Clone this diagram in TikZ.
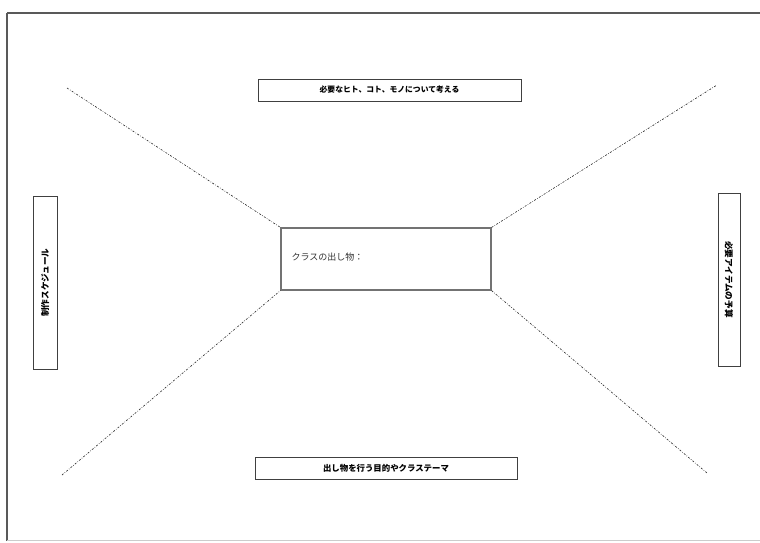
\documentclass[tikz,border=0pt]{standalone}
\usepackage{fontspec}
\setmainfont{Noto Sans CJK JP}
\begin{document}
\begin{tikzpicture}[x=1pt,y=-1pt,
  box/.style={draw=black!75,line width=0.9pt,fill=white,inner sep=0pt,font=\bfseries\fontsize{7.8}{9}\selectfont},
  vbox/.style={box,font=\bfseries\fontsize{8.6}{10}\selectfont},
  conn/.style={draw=black!80,line width=0.65pt,dash pattern=on 2pt off 1.5pt on 0.6pt off 1.5pt},
  frame/.style={draw=black!65,line width=1.1pt}]
\useasboundingbox (0,0) rectangle (760,542);
\begin{scope}
\clip (0,0) rectangle (760,542);
\draw[frame] (7,13) -- (775,13);
\draw[frame] (7,13) -- (7,541);
\draw[draw=black!20,line width=0.6pt] (7,540) -- (760,540);
\end{scope}
% outer free ends
\coordinate (tl) at (67,88);
\coordinate (tr) at (717,85);
\coordinate (bl) at (62,475);
\coordinate (br) at (707,473);
% center box
\node[box,draw=black!55,line width=1.2pt,minimum width=210pt,minimum height=62pt] (c) at (386,259) {};
\node[anchor=west,font=\fontsize{9}{10}\selectfont,text=black!80] (ct) at (288,257) {クラスの出し物：};
\draw[conn] (tl) -- (c.north west);
\draw[conn] (c.north east) -- (tr);
\draw[conn] (bl) -- (c.south west);
\draw[conn] (c.south east) -- (br);
% surrounding boxes
\node[box,minimum width=263pt,minimum height=22pt] (top) at (389.5,90) {必要なヒト、コト、モノについて考える};
\node[box,font=\bfseries\fontsize{8.4}{10}\selectfont,minimum width=262pt,minimum height=22pt] (bot) at (386,468) {出し物を行う目的やクラステーマ};
\node[vbox,rotate=90,minimum width=173pt,minimum height=24pt] (lft) at (45,282.5) {制作スケジュール};
\node[vbox,rotate=-90,minimum width=173pt,minimum height=22pt] (rgt) at (729,279.5) {必要アイテムの予算};
\end{tikzpicture}
\end{document}
